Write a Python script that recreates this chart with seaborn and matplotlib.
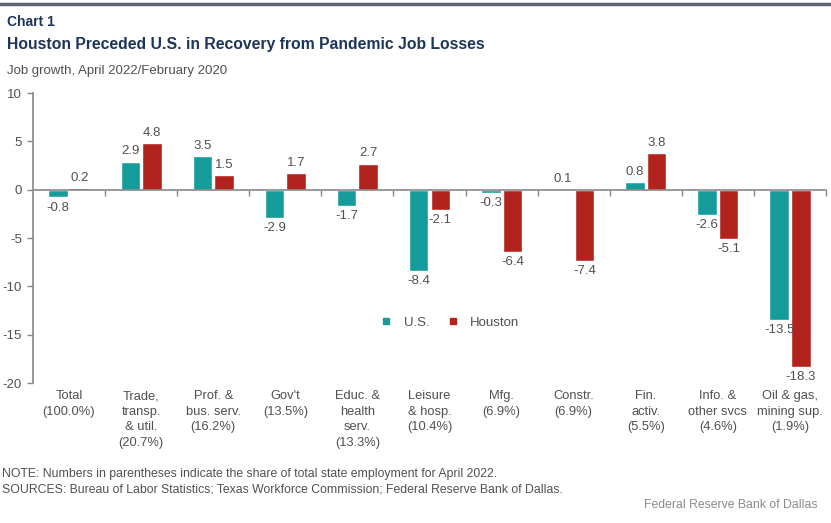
import matplotlib
matplotlib.use("Agg")
import matplotlib.pyplot as plt
from matplotlib.lines import Line2D
import pandas as pd
import seaborn as sns

# -------------------------
# Data
# -------------------------
categories = [
    "Total\n(100.0%)",
    "Trade,\ntransp.\n& util.\n(20.7%)",
    "Prof. &\nbus. serv.\n(16.2%)",
    "Gov't\n(13.5%)",
    "Educ. &\nhealth\nserv.\n(13.3%)",
    "Leisure\n& hosp.\n(10.4%)",
    "Mfg.\n(6.9%)",
    "Constr.\n(6.9%)",
    "Fin.\nactiv.\n(5.5%)",
    "Info. &\nother svcs\n(4.6%)",
    "Oil & gas,\nmining sup.\n(1.9%)",
]
us_growth = [-0.8, 2.9, 3.5, -2.9, -1.7, -8.4, -0.3, 0.1, 0.8, -2.6, -13.5]
houston_growth = [0.2, 4.8, 1.5, 1.7, 2.7, -2.1, -6.4, -7.4, 3.8, -5.1, -18.3]
series_names = ["U.S.", "Houston"]
y_ticks = [10, 5, 0, -5, -10, -15, -20]

TEAL = "#169b9b"
RED = "#b2231e"
GRAY_TXT = "#505050"
NAVY = "#1d3557"

df = pd.DataFrame({
    "category": categories * 2,
    "series": [series_names[0]] * len(categories) + [series_names[1]] * len(categories),
    "value": us_growth + houston_growth,
})

sns.set_style("white")
plt.rcParams["font.family"] = ["Liberation Sans", "DejaVu Sans"]

fig = plt.figure(figsize=(8.31, 5.23), dpi=100)
ax = fig.add_axes([33 / 831, 1 - 383 / 523, 793 / 831, 290 / 523])

sns.barplot(
    data=df, x="category", y="value", hue="series",
    palette=[TEAL, RED], width=0.6, gap=0.1,
    saturation=1, legend=False, ax=ax,
)

for cont in ax.containers:
    ax.bar_label(cont, fmt="%.1f", padding=3, fontsize=9.5, color=GRAY_TXT)

# axes styling
ax.set_xlim(-0.5, len(categories) - 0.5)
ax.set_ylim(-20, 10)
ax.set_yticks(y_ticks)
ax.set_yticklabels([str(t) for t in y_ticks], fontsize=9.5, color=GRAY_TXT)
ax.tick_params(axis="y", direction="out", length=4, width=1, color="#888888", pad=4, left=True)
ax.set_xlabel("")
ax.set_ylabel("")

for side in ["top", "right"]:
    ax.spines[side].set_visible(False)
ax.spines["left"].set_color("#888888")
ax.spines["left"].set_linewidth(1.2)
ax.spines["bottom"].set_position(("data", 0))
ax.spines["bottom"].set_color("#888888")
ax.spines["bottom"].set_linewidth(1.2)

boundaries = [i + 0.5 for i in range(len(categories))]
ax.set_xticks(boundaries)
ax.set_xticklabels([])
ax.tick_params(axis="x", direction="out", length=4, width=1, color="#888888", bottom=True)

# category labels below plot
for i, lab in enumerate(categories):
    ax.text(i, -0.025, lab, transform=ax.get_xaxis_transform(), ha="center", va="top",
            fontsize=9.3, color=GRAY_TXT, linespacing=1.4)

# legend
handles = [
    Line2D([], [], marker="s", linestyle="", color=TEAL, markersize=5),
    Line2D([], [], marker="s", linestyle="", color=RED, markersize=5),
]
ax.legend(handles, series_names, loc="center left", bbox_to_anchor=(0.414, 0.207),
          ncol=2, frameon=False, fontsize=9.5, handletextpad=0.3, columnspacing=0.8,
          labelcolor=GRAY_TXT)

# header and footer text
fig.add_artist(Line2D([0, 1], [1 - 4 / 523, 1 - 4 / 523], color="#5b6670", linewidth=2.5))
fig.text(7 / 831, 1 - 22 / 523, "Chart 1", fontsize=10, fontweight="bold", color=NAVY, va="center")
fig.text(7 / 831, 1 - 44 / 523, "Houston Preceded U.S. in Recovery from Pandemic Job Losses",
         fontsize=11.3, fontweight="bold", color=NAVY, va="center")
fig.text(7 / 831, 1 - 71 / 523, "Job growth, April 2022/February 2020", fontsize=9.5,
         color=GRAY_TXT, va="center")
fig.text(2 / 831, 1 - 474 / 523,
         "NOTE: Numbers in parentheses indicate the share of total state employment for April 2022.",
         fontsize=8.8, color=GRAY_TXT, va="center")
fig.text(2 / 831, 1 - 489 / 523,
         "SOURCES: Bureau of Labor Statistics; Texas Workforce Commission; Federal Reserve Bank of Dallas.",
         fontsize=8.8, color=GRAY_TXT, va="center")
fig.text(818 / 831, 1 - 505 / 523, "Federal Reserve Bank of Dallas", fontsize=8.8,
         color="#8a8a8a", ha="right", va="center")

fig.savefig("out.png", dpi=100)
